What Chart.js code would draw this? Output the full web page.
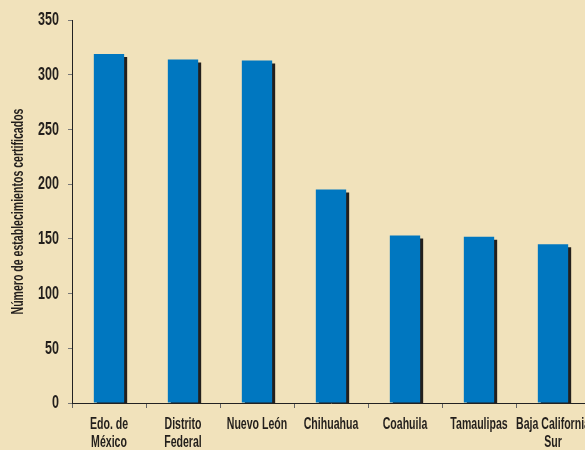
<!DOCTYPE html>
<html>
<head>
<meta charset="utf-8">
<script src="https://cdn.jsdelivr.net/npm/chart.js@4/dist/chart.umd.min.js"></script>
<style>
  html, body { margin: 0; padding: 0; overflow: hidden; background: #F1E2BB; }
  #wrap { width: 594px; height: 450px; }
</style>
</head>
<body>
<div id="wrap"><canvas id="Estados" width="594" height="450"></canvas></div>
<script>
var estados = [["Edo. de", "México"], ["Distrito", "Federal"], "Nuevo León", "Chihuahua", "Coahuila", "Tamaulipas", ["Baja California", "Sur"]];
var establecimientos = [319, 314, 313, 195, 153, 152, 145];
var yTicks = [0, 50, 100, 150, 200, 250, 300, 350];

var fuente = "'Liberation Sans', Arial, sans-serif";

// letra condensada: se comprime el texto a lo ancho
var k = 0.66;
var P = CanvasRenderingContext2D.prototype;
var fill0 = P.fillText, meas0 = P.measureText;
P.fillText = function(t, x, y) {
	this.save();
	this.translate(x, y);
	this.scale(k, 1);
	fill0.call(this, t, 0, 0);
	this.restore();
};
P.measureText = function(t) {
	var m = meas0.call(this, t);
	return { width: m.width * k, actualBoundingBoxAscent: m.actualBoundingBoxAscent, actualBoundingBoxDescent: m.actualBoundingBoxDescent };
};

// sombra oscura bajo cada barra
var sombra = {
	id: "sombra",
	beforeDatasetsDraw: function(chart) {
		var ctx = chart.ctx;
		ctx.save();
		ctx.shadowColor = "#231F1C";
		ctx.shadowOffsetX = 3;
		ctx.shadowOffsetY = 3;
		ctx.shadowBlur = 0;
	},
	afterDatasetsDraw: function(chart) {
		chart.ctx.restore();
	}
};

var ctx = document.getElementById("Estados").getContext("2d");
var grafica = new Chart(ctx, {
	type: "bar",
	data: {
		labels: estados,
		datasets: [{
			label: "Establecimientos",
			data: establecimientos,
			backgroundColor: "#0077C0",
			borderWidth: 0,
			barPercentage: 0.41,
			categoryPercentage: 1
		}]
	},
	options: {
		responsive: false,
		animation: false,
		layout: { padding: { top: 20, left: 0, right: 4, bottom: 0 } },
		plugins: { legend: { display: false }, tooltip: { enabled: false } },
		scales: {
			x: {
				grid: { display: true, drawOnChartArea: false, offset: true, tickLength: 5, color: "#666", lineWidth: 1 },
				border: { color: "#222", width: 1 },
				ticks: { color: "#231F1C", font: { family: fuente, size: 16, weight: "bold", lineHeight: 1.1 }, padding: 8, maxRotation: 0, autoSkip: false },
				afterFit: function(s) { s.height = 47; s.paddingLeft = 0; s.paddingRight = 0; }
			},
			y: {
				min: 0,
				max: 350,
				afterBuildTicks: function(s) { s.ticks = yTicks.map(function(v) { return { value: v }; }); },
				grid: { display: true, drawOnChartArea: false, tickLength: 4, color: "#777", lineWidth: 1 },
				border: { color: "#222", width: 1 },
				ticks: { color: "#231F1C", font: { family: fuente, size: 19, weight: "bold" }, padding: 9 },
				title: { display: true, text: "Número de establecimientos certificados", color: "#231F1C", font: { family: fuente, size: 16, weight: "bold" }, padding: { top: 9, bottom: 0 } },
				afterFit: function(s) { s.width = 72; s.paddingTop = 0; s.paddingBottom = 0; }
			}
		}
	},
	plugins: [sombra]
});
</script>
</body>
</html>
